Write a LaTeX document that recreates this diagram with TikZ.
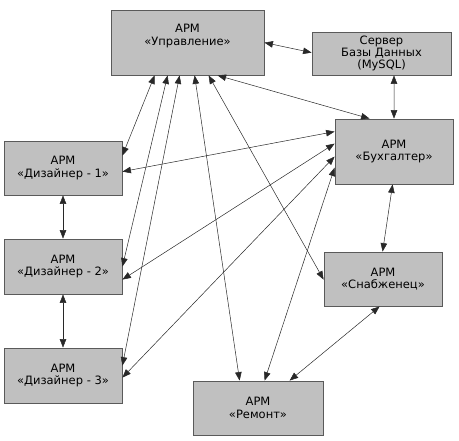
\documentclass[tikz,border=0pt]{standalone}
\usepackage{fontspec}
\setmainfont{DejaVu Sans}
\usetikzlibrary{arrows.meta}
\definecolor{boxfill}{RGB}{192,192,192}
\definecolor{boxline}{RGB}{90,90,90}
\definecolor{linkcol}{RGB}{40,40,40}
\tikzset{
  box/.style={draw=boxline, line width=0.8bp, fill=boxfill, align=center, inner sep=0pt,
    font=\fontsize{11.5bp}{12.4bp}\selectfont},
  link/.style={draw=linkcol, line width=0.5bp, {Triangle[length=8.5bp,width=6.5bp]}-{Triangle[length=8.5bp,width=6.5bp]}}
}
\begin{document}
\begin{tikzpicture}[x=1bp,y=-1bp]
\useasboundingbox (0,0) rectangle (459,441);
\node[box, minimum width=153bp, minimum height=65bp] (U) at (187.5,42.5) {АРМ\\«Управление»\\[3bp]};
\node[box, minimum width=139bp, minimum height=43bp] (S) at (381.5,53.5) {Сервер\\Базы Данных\\(MySQL)};
\node[box, minimum width=118bp, minimum height=65bp] (B) at (394,151.5) {АРМ\\«Бухгалтер»};
\node[box, minimum width=118bp, minimum height=54bp] (D1) at (63,168) {АРМ\\«Дизайнер - 1»};
\node[box, minimum width=118bp, minimum height=55bp] (D2) at (63,266.5) {АРМ\\«Дизайнер - 2»};
\node[box, minimum width=118bp, minimum height=55bp] (D3) at (63,375.5) {АРМ\\«Дизайнер - 3»};
\node[box, minimum width=118bp, minimum height=54bp] (Sn) at (383,279) {АРМ\\«Снабженец»};
\node[box, minimum width=130bp, minimum height=54bp] (R) at (258,408) {АРМ\\«Ремонт»};

\draw[link] ([yshift=-33bp]U.north east) -- ([yshift=-21bp]S.north west);
\draw[link] ([xshift=12.5bp]S.south) -- (B.north);
\draw[link] ([xshift=107bp]U.south west) -- ([xshift=35bp]B.north west);
\draw[link] ([xshift=44bp]U.south west) -- ([yshift=-15bp]D1.north east);
\draw[link] ([xshift=57bp]U.south west) -- ([yshift=-28bp]D2.north east);
\draw[link] ([xshift=69bp]U.south west) -- ([yshift=-18bp]D3.north east);
\draw[link] ([xshift=84bp]U.south west) -- ([xshift=47bp]R.north west);
\draw[link] ([xshift=98bp]U.south west) -- ([yshift=-28bp]Sn.north west);
\draw[link] ([yshift=-31bp]D1.north east) -- ([yshift=-13bp]B.north west);
\draw[link] ([yshift=-41bp]D2.north east) -- ([yshift=-25bp]B.north west);
\draw[link] ([yshift=-30bp]D3.north east) -- ([yshift=-38bp]B.north west);
\draw[link] ([xshift=72bp]R.north west) -- ([yshift=-49bp]B.north west);
\draw[link] ([xshift=58bp]B.south west) -- ([xshift=59bp]Sn.north west);
\draw[link] ([xshift=56bp]Sn.south west) -- ([xshift=97bp]R.north west);
\draw[link] (D1.south) -- (D2.north);
\draw[link] (D2.south) -- (D3.north);
\end{tikzpicture}
\end{document}
